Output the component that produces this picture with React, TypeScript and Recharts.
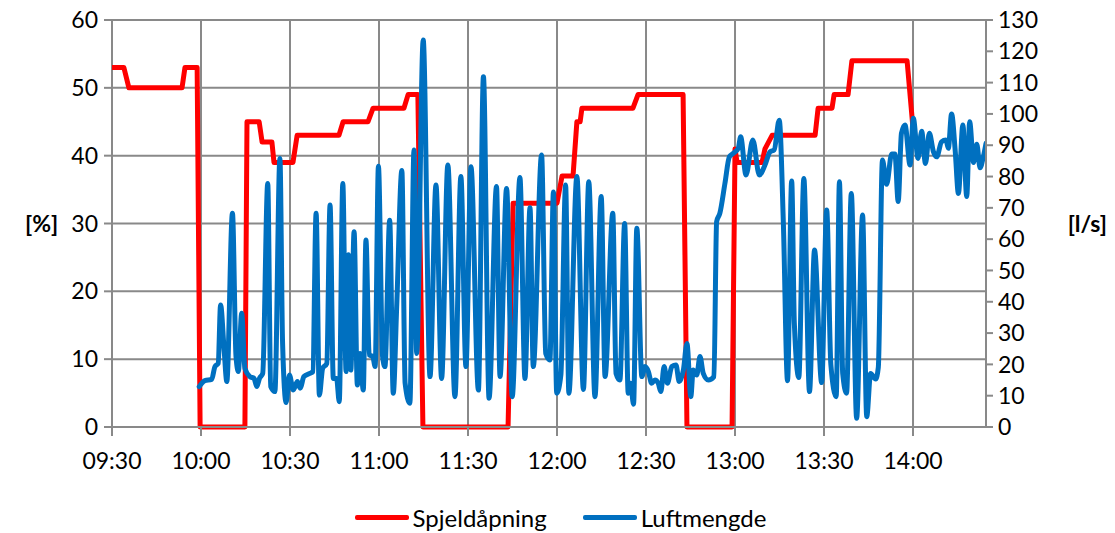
import React from 'react';
import { LineChart, Line, XAxis, YAxis, CartesianGrid, Legend } from 'recharts';

// minutes after 09:30
const START_MINUTES = 9 * 60 + 30;
const timeTicks = [0, 30, 60, 90, 120, 150, 180, 210, 240, 270];
const leftTicks = [0, 10, 20, 30, 40, 50, 60];
const rightTicks = [0, 10, 20, 30, 40, 50, 60, 70, 80, 90, 100, 110, 120, 130];
const seriesNames = ['Spjeldåpning', 'Luftmengde'];

const damperTimes = [
  0, 4.0, 5.7, 23.6, 24.6, 28.7, 29.7, 44.8, 45.5, 49.6,
  50.6, 53.9, 54.6, 61.0, 62.4, 76.5, 77.9, 86.3, 88.0, 98.4,
  99.8, 103.1, 104.8, 133.5, 135.2, 150.0, 151.7, 155.4, 156.7, 157.8,
  158.4, 175.6, 177.3, 192.5, 193.8, 209.0, 210.0, 210.7, 219.1, 220.1,
  222.5, 237.0, 238.0, 242.7, 243.4, 248.1, 249.4, 268.0, 270.0,
];
const damperValues = [
  53, 53, 50, 50, 53, 53, 0, 0, 45, 45,
  42, 42, 39, 39, 43, 43, 45, 45, 47, 47,
  49, 49, 0, 0, 33, 33, 37, 37, 45, 45,
  47, 47, 49, 49, 0, 0, 41, 39, 39, 41,
  43, 43, 47, 47, 49, 49, 54, 54, 44,
];

const flowTimes = [
  29.4, 31.3, 33.6, 34.7, 35.8, 36.6, 37.8, 38.7, 40.6, 41.8,
  42.6, 43.7, 44.8, 46.5, 47.9, 48.8, 49.7, 50.8, 52.5, 53.5,
  54.9, 56.6, 57.5, 58.7, 59.8, 61.1, 62.5, 63.4, 64.7, 66.7,
  67.7, 68.8, 69.9, 71.0, 72.4, 73.5, 74.6, 75.7, 76.6, 77.8,
  78.9, 79.7, 80.5, 81.6, 82.7, 83.6, 84.7, 85.6, 86.7, 87.9,
  88.7, 89.8, 91.2, 92.0, 93.6, 94.8, 96.0, 97.7, 98.8, 100.4,
  101.8, 102.7, 104.9, 107.2, 109.2, 111.1, 113.2, 115.6, 117.6, 119.3,
  121.0, 123.5, 125.2, 127.1, 129.6, 130.8, 133.0, 134.9, 137.5, 139.2,
  140.9, 142.0, 144.8, 146.2, 147.6, 148.8, 149.9, 151.3, 152.9, 154.0,
  156.7, 158.9, 160.7, 162.8, 164.9, 166.2, 168.8, 169.9, 171.2, 172.8,
  174.0, 174.8, 175.8, 176.9, 178.6, 179.7, 180.8, 181.9, 183.0, 184.1,
  185.0, 186.1, 187.2, 188.7, 190.1, 191.2, 192.6, 193.8, 195.1, 195.9,
  197.1, 198.2, 199.3, 201.0, 202.9, 203.8, 204.9, 206.6, 208.1, 209.4,
  211.1, 211.9, 213.7, 216.0, 218.2, 220.1, 221.8, 223.2, 224.9, 226.3,
  227.7, 229.1, 230.0, 231.5, 233.2, 235.1, 236.8, 239.2, 240.9, 242.3,
  244.1, 245.2, 246.3, 247.6, 249.2, 251.0, 253.0, 254.4, 255.7, 257.4,
  258.3, 259.7, 261.1, 262.8, 263.9, 265.0, 266.1, 267.3, 269.0, 270.1,
  271.7, 272.9, 274.2, 275.5, 276.9, 278.0, 279.6, 281.1, 281.9, 283.0,
  284.2, 285.3, 286.8, 288.1, 289.1, 290.4, 291.5, 292.6, 293.7, 294.6,
];
const flowValues = [
  12.9, 14.8, 15.2, 19.3, 20.3, 39, 24.6, 14.5, 68.3, 22.5,
  17.7, 36.3, 18.7, 16.1, 15.5, 12.9, 15.5, 17.1, 77.8, 12.9,
  11.3, 85.8, 26.7, 7.8, 16.6, 11.8, 14.5, 12.4, 16.1, 17.1,
  17.7, 68.3, 10.2, 18.7, 20.3, 70.9, 15.5, 15.5, 8.1, 77.8,
  17.7, 55, 18.2, 62.4, 13.4, 23.5, 11.8, 59.7, 23, 22.5,
  19.3, 83.3, 22.5, 19.3, 66, 10.8, 39.5, 81.9, 14, 7.6,
  88.5, 23.5, 123.6, 16.1, 77.3, 15.5, 83.7, 9.7, 80, 19.3,
  83.1, 11.8, 111.9, 9.2, 76.8, 16.1, 76.2, 9.7, 79.7, 15.5,
  70, 19.3, 86.9, 23.5, 21.4, 75.1, 10.8, 16.6, 77.3, 10.8,
  80, 12, 78.3, 9.7, 73.6, 16.1, 68.3, 17.1, 15, 65,
  10.8, 14, 7.3, 63.5, 16.1, 19.3, 17.7, 14, 15, 14,
  11.3, 19.3, 14, 19.3, 19.8, 14.5, 18.2, 26.7, 9.7, 18.2,
  16.6, 22.5, 17.1, 15, 16.1, 65.6, 68.3, 77.8, 86.3, 87.4,
  89, 92.7, 80.5, 91.7, 80.5, 83.7, 87.9, 88.5, 98, 65,
  14.8, 78.6, 33.1, 15.8, 79.4, 11.3, 56.5, 14.2, 69.3, 20,
  9.7, 78.3, 17.1, 10.8, 74.6, 2.8, 67.7, 3.3, 17.1, 15.3,
  19, 85.3, 77.5, 87.2, 87.2, 72, 93.8, 96.5, 83.7, 98.6,
  85.8, 94.5, 84.2, 93.8, 87.9, 86.3, 91.1, 91.7, 89, 100,
  88.5, 74.6, 96.5, 73.6, 97.5, 84.5, 90.3, 82.8, 86.3, 90.6,
];

const damperData = damperTimes.map((t, i) => ({ t, v: damperValues[i] }));
const flowData = flowTimes.map((t, i) => ({ t, v: flowValues[i] }));

const formatTime = (m: number) => {
  const total = Math.round(START_MINUTES + m);
  const h = Math.floor(total / 60);
  const mm = total % 60;
  return `${String(h).padStart(2, '0')}:${String(mm).padStart(2, '0')}`;
};

const FONT = 'Lato, Carlito, Calibri, "Noto Sans", sans-serif';
const GRID = '#898989';

const LegendContent = (props: any) => {
  const payload = [...(props.payload || [])].sort(
    (a: any, b: any) => seriesNames.indexOf(a.value) - seriesNames.indexOf(b.value)
  );
  return (
    <div style={{ display: 'flex', justifyContent: 'center', alignItems: 'center', height: 32, fontFamily: FONT, fontSize: 24, color: '#000', paddingLeft: 6 }}>
      {payload.map((entry: any, i: number) => (
        <div key={i} style={{ display: 'flex', alignItems: 'center', marginLeft: i === 0 ? 0 : 36 }}>
          <div style={{ width: 54, height: 5, background: entry.color, borderRadius: 2, marginRight: 4 }} />
          <span>{entry.value}</span>
        </div>
      ))}
    </div>
  );
};

export default function App() {
  return (
    <div style={{ position: 'absolute', left: 0, top: 0, width: 1115, height: 533, background: '#fff', fontFamily: FONT }}>
      <LineChart width={1115} height={533} margin={{ top: 20, right: 0, bottom: 0, left: 0 }}>
        <CartesianGrid yAxisId="left" stroke={GRID} strokeWidth={2} />
        <XAxis
          dataKey="t"
          type="number"
          domain={[0, 294.6]}
          allowDataOverflow
          ticks={timeTicks}
          tickFormatter={formatTime}
          height={74}
          tickSize={9}
          tickMargin={17}
          axisLine={{ stroke: GRID, strokeWidth: 2 }}
          tickLine={{ stroke: GRID, strokeWidth: 2 }}
          tick={{ fill: '#000', fontSize: 23, fontFamily: FONT }}
        />
        <YAxis
          yAxisId="left"
          domain={[0, 60]}
          ticks={leftTicks}
          width={112}
          tickSize={8}
          tickMargin={6}
          axisLine={false}
          tickLine={{ stroke: GRID, strokeWidth: 2 }}
          tick={{ fill: '#000', fontSize: 23, fontFamily: FONT }}
          label={{ value: '[%]', position: 'insideLeft', offset: 25, style: { fontWeight: 'bold', fontSize: 23, fill: '#000', fontFamily: FONT, textAnchor: 'start' } }}
        />
        <YAxis
          yAxisId="right"
          orientation="right"
          domain={[0, 130]}
          ticks={rightTicks}
          width={129}
          tickSize={7}
          tickMargin={5}
          axisLine={{ stroke: GRID, strokeWidth: 2 }}
          tickLine={{ stroke: GRID, strokeWidth: 2 }}
          tick={{ fill: '#000', fontSize: 23, fontFamily: FONT }}
          label={{ value: '[l/s]', position: 'insideRight', offset: 8, style: { fontWeight: 'bold', fontSize: 23, fill: '#000', fontFamily: FONT, textAnchor: 'end' } }}
        />
        <Legend verticalAlign="bottom" height={32} content={<LegendContent />} />
        <Line
          yAxisId="left"
          data={damperData}
          dataKey="v"
          name="Spjeldåpning"
          type="linear"
          stroke="#FF0000"
          strokeWidth={5}
          strokeLinejoin="round"
          strokeLinecap="round"
          dot={false}
          activeDot={false}
          isAnimationActive={false}
        />
        <Line
          yAxisId="right"
          data={flowData}
          dataKey="v"
          name="Luftmengde"
          type="monotone"
          stroke="#0070C0"
          strokeWidth={5}
          strokeLinejoin="round"
          strokeLinecap="round"
          dot={false}
          activeDot={false}
          isAnimationActive={false}
        />
      </LineChart>
    </div>
  );
}
